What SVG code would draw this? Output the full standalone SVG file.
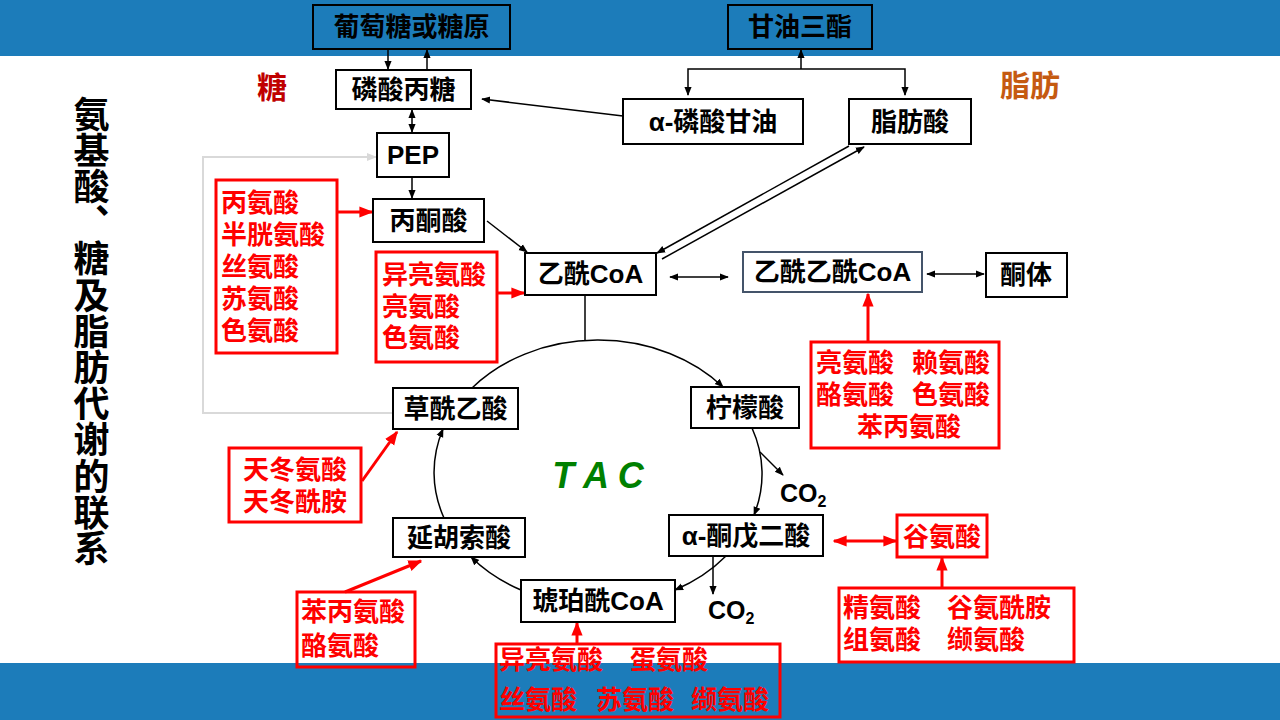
<svg xmlns="http://www.w3.org/2000/svg" width="1280" height="720" viewBox="0 0 1280 720">
<style>
.bx{fill:#fff;stroke:#000;stroke-width:2}
.bt{fill:none;stroke:#000;stroke-width:2}
.rb{fill:none;stroke:#FF0000;stroke-width:3}
.t{font-family:"Liberation Sans","Noto Sans CJK SC",sans-serif;font-weight:bold;font-size:26px;fill:#000}
.m{text-anchor:middle}
.r{font-family:"Liberation Sans","Noto Sans CJK SC",sans-serif;font-weight:bold;font-size:26px;fill:#FF0000}
.ln{fill:none;stroke:#000;stroke-width:1.5}
.rl{fill:none;stroke:#FF0000;stroke-width:3}
</style>
<defs>
<marker id="ah" viewBox="0 0 10 10" refX="9" refY="5" markerWidth="9" markerHeight="9" markerUnits="userSpaceOnUse" orient="auto-start-reverse"><path d="M0,1 L10,5 L0,9 z" fill="#000"/></marker>
<marker id="ar" viewBox="0 0 10 10" refX="9" refY="5" markerWidth="14" markerHeight="14" markerUnits="userSpaceOnUse" orient="auto-start-reverse"><path d="M0,1 L10,5 L0,9 z" fill="#FF0000"/></marker>
<marker id="ag" viewBox="0 0 10 10" refX="9" refY="5" markerWidth="10" markerHeight="10" markerUnits="userSpaceOnUse" orient="auto-start-reverse"><path d="M0,1 L10,5 L0,9 z" fill="#D9D9D9"/></marker>
</defs>
<rect x="0" y="0" width="1280" height="720" fill="#fff"/>
<rect x="0" y="0" width="1280" height="56" fill="#1C7CBA"/>
<rect x="0" y="663" width="1280" height="57" fill="#1C7CBA"/>

<g id="title">
<text class="t" style="font-size:36px;writing-mode:vertical-rl;letter-spacing:0.2px" x="88" y="96">氨基酸、糖及脂肪代谢的联系</text>
</g>
<text class="t m" style="font-size:30px;fill:#C00000" x="272" y="98">糖</text>
<text class="t m" style="font-size:30px;fill:#C55A11" x="1030" y="96">脂肪</text>

<g id="connectors">
<path class="ln" d="M388 49 V69" marker-end="url(#ah)"/>
<path class="ln" d="M427 70 V50" marker-end="url(#ah)"/>
<path class="ln" d="M412 110 V132" marker-start="url(#ah)" marker-end="url(#ah)"/>
<path class="ln" d="M412 177 V198" marker-end="url(#ah)"/>
<path class="ln" d="M623 116 L482 99" marker-end="url(#ah)"/>
<path class="ln" d="M688 95 V69 H905 V95" marker-start="url(#ah)" marker-end="url(#ah)"/>
<path class="ln" d="M801 69 V50" marker-end="url(#ah)"/>
<path class="ln" d="M849 146 L657 253" marker-end="url(#ah)"/>
<path class="ln" d="M662 259 L864 147" marker-end="url(#ah)"/>
<path class="ln" d="M670 277 H728" marker-start="url(#ah)" marker-end="url(#ah)"/>
<path class="ln" d="M927 274 H984" marker-start="url(#ah)" marker-end="url(#ah)"/>
<path class="ln" d="M487 221 L527 252" marker-end="url(#ah)"/>
<path class="ln" d="M585 296 V341"/>
<path class="ln" d="M472 388 A164 133 0 0 1 723 387" marker-end="url(#ah)"/>
<path class="ln" d="M752 428 A164 133 0 0 1 754 515" marker-end="url(#ah)"/>
<path class="ln" d="M726 556 A164 133 0 0 1 675 590" marker-end="url(#ah)"/>
<path class="ln" d="M521 590 A164 133 0 0 1 471 557" marker-end="url(#ah)"/>
<path class="ln" d="M444 518 A164 133 0 0 1 443 429" marker-end="url(#ah)"/>
<path class="ln" d="M760 452 L783 475" marker-end="url(#ah)"/>
<path class="ln" d="M713 557 V594" marker-end="url(#ah)"/>
<path fill="none" stroke="#D9D9D9" stroke-width="2" d="M393 413 H203 V157 H376" marker-end="url(#ag)"/>
<path class="rl" d="M337 212 H372" marker-end="url(#ar)"/>
<path class="rl" d="M497 293 H524" marker-end="url(#ar)"/>
<path class="rl" d="M362 481 L397 432" marker-end="url(#ar)"/>
<path class="rl" d="M345 592 L421 561" marker-end="url(#ar)"/>
<path class="rl" d="M577 644 V623" marker-end="url(#ar)"/>
<path class="rl" d="M868 342 V294" marker-end="url(#ar)"/>
<path class="rl" d="M834 541 H896" marker-start="url(#ar)" marker-end="url(#ar)"/>
<path class="rl" d="M942 588 V558" marker-end="url(#ar)"/>
</g>

<g id="n-glucose"><rect class="bt" x="313" y="5" width="197" height="44"/><text class="t m" x="411.5" y="36">葡萄糖或糖原</text></g>
<g id="n-tg"><rect class="bt" x="728" y="5" width="144" height="44"/><text class="t m" x="800" y="36">甘油三酯</text></g>
<g id="n-triose"><rect class="bx" x="336" y="70" width="135" height="39"/><text class="t m" x="403.5" y="99">磷酸丙糖</text></g>
<g id="n-pep"><rect class="bx" x="377" y="133" width="72" height="44"/><text class="t m" x="413" y="164">PEP</text></g>
<g id="n-pyr"><rect class="bx" x="373" y="199" width="111" height="43"/><text class="t m" x="428.5" y="230">丙酮酸</text></g>
<g id="n-gp"><rect class="bx" x="623" y="99" width="180" height="45"/><text class="t m" x="713" y="131">α-磷酸甘油</text></g>
<g id="n-fa"><rect class="bx" x="849" y="99" width="122" height="45"/><text class="t m" x="910" y="131">脂肪酸</text></g>
<g id="n-acoa"><rect class="bx" x="525" y="253" width="131" height="42"/><text class="t m" x="590.5" y="283">乙酰CoA</text></g>
<g id="n-aacoa"><rect x="743" y="252" width="179" height="40" fill="#fff" stroke="#44546A" stroke-width="2"/><text class="t m" x="832.5" y="281">乙酰乙酰CoA</text></g>
<g id="n-ket"><rect class="bx" x="986" y="253" width="81" height="44"/><text class="t m" x="1026" y="284">酮体</text></g>
<g id="n-oaa"><rect class="bx" x="393" y="388" width="125" height="41"/><text class="t m" x="455.5" y="418">草酰乙酸</text></g>
<g id="n-cit"><rect class="bx" x="691" y="387" width="108" height="41"/><text class="t m" x="745" y="417">柠檬酸</text></g>
<g id="n-akg"><rect class="bx" x="669" y="515" width="154" height="41"/><text class="t m" x="746" y="545">α-酮戊二酸</text></g>
<g id="n-fum"><rect class="bx" x="393" y="518" width="132" height="39"/><text class="t m" x="459" y="547">延胡索酸</text></g>
<g id="n-suc"><rect class="bx" x="521" y="580" width="154" height="42"/><text class="t m" x="598" y="610">琥珀酰CoA</text></g>

<g id="tac"><text class="t m" style="font-size:36px;font-style:italic;fill:#008000" x="598" y="488">T A C</text></g>
<g id="co2a"><text class="t" style="font-size:25px" x="780" y="502">CO<tspan style="font-size:16px" dy="5">2</tspan></text></g>
<g id="co2b"><text class="t" style="font-size:25px" x="708" y="619">CO<tspan style="font-size:16px" dy="5">2</tspan></text></g>

<g id="r-a"><rect class="rb" x="216" y="180" width="121" height="173"/>
<text class="r" x="221"><tspan x="221" y="212">丙氨酸</tspan><tspan x="221" y="244">半胱氨酸</tspan><tspan x="221" y="276">丝氨酸</tspan><tspan x="221" y="308">苏氨酸</tspan><tspan x="221" y="340">色氨酸</tspan></text></g>
<g id="r-b"><rect class="rb" x="376" y="252" width="121" height="110"/>
<text class="r"><tspan x="382" y="284">异亮氨酸</tspan><tspan x="382" y="316">亮氨酸</tspan><tspan x="382" y="347">色氨酸</tspan></text></g>
<g id="r-c"><rect class="rb" x="229" y="448" width="132" height="74"/>
<text class="r m"><tspan x="295" y="479">天冬氨酸</tspan><tspan x="295" y="511">天冬酰胺</tspan></text></g>
<g id="r-d"><rect class="rb" x="297" y="592" width="118" height="75"/>
<text class="r"><tspan x="301" y="621">苯丙氨酸</tspan><tspan x="301" y="655">酪氨酸</tspan></text></g>
<g id="r-e"><rect class="rb" x="496" y="644" width="284" height="73"/>
<text class="r"><tspan x="499" y="669">异亮氨酸</tspan><tspan x="630" y="669">蛋氨酸</tspan><tspan x="499" y="709">丝氨酸</tspan><tspan x="596" y="709">苏氨酸</tspan><tspan x="691" y="709">缬氨酸</tspan></text></g>
<g id="r-f"><rect class="rb" x="811" y="342" width="188" height="106"/>
<text class="r"><tspan x="816" y="372">亮氨酸</tspan><tspan x="912" y="372">赖氨酸</tspan><tspan x="816" y="404">酪氨酸</tspan><tspan x="912" y="404">色氨酸</tspan><tspan x="857" y="436">苯丙氨酸</tspan></text></g>
<g id="r-g"><rect class="rb" x="897" y="515" width="90" height="42"/><text class="r m" x="942" y="546">谷氨酸</text></g>
<g id="r-h"><rect class="rb" x="839" y="588" width="235" height="74"/>
<text class="r"><tspan x="843" y="617">精氨酸</tspan><tspan x="947" y="617">谷氨酰胺</tspan><tspan x="843" y="649">组氨酸</tspan><tspan x="947" y="649">缬氨酸</tspan></text></g>
</svg>
